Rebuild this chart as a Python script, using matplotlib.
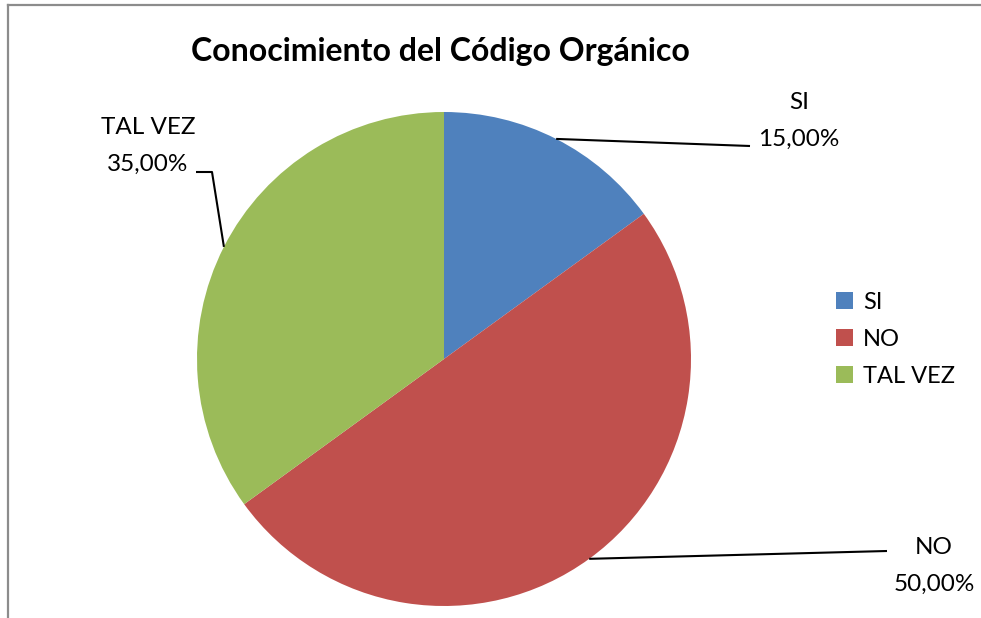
import numpy as np
import matplotlib
matplotlib.use('Agg')
import matplotlib.pyplot as plt
from matplotlib.lines import Line2D
from matplotlib.patches import Patch

categories = ['SI', 'NO', 'TAL VEZ']
values = [15.0, 50.0, 35.0]
colors = ['#4F81BD', '#C0504D', '#9BBB59']
title = 'Conocimiento del Código Orgánico'

W, H = 981, 618
plt.rcParams['font.family'] = ['Lato', 'DejaVu Sans']


def px(x, y):
    # pixel position (top-left origin) -> figure fraction
    return x / W, 1 - y / H


fig = plt.figure(figsize=(W / 100, H / 100), dpi=100)
fig.patch.set_facecolor('white')

# chart area border (top and left only visible)
fig.add_artist(Line2D([8 / W, 1], [1 - 5 / H, 1 - 5 / H], color='#8c8c8c', lw=1.6))
fig.add_artist(Line2D([8 / W, 8 / W], [0, 1 - 5 / H], color='#8c8c8c', lw=1.6))

cx, cy, r = 444, 359, 247
ax = fig.add_axes([(cx - r) / W, (H - cy - r) / H, 2 * r / W, 2 * r / H])
wedges, _ = ax.pie(values, colors=colors, startangle=90, counterclock=False,
                   radius=1, wedgeprops=dict(linewidth=0))
ax.set_xlim(-1, 1)
ax.set_ylim(-1, 1)
ax.set_aspect('equal')
ax.axis('off')


def to_data(x, y):
    return (x - cx) / r, (cy - y) / r


# leader line end points (pixel) and label positions
leader_pts = [
    [(750, 146)],
    [(887, 551)],
    [(212, 172), (196, 172)],
]
label_pos = [(799, 121), (934, 566), (148, 146)]

for w, pts, lp, cat, v in zip(wedges, leader_pts, label_pos, categories, values):
    mid = np.deg2rad((w.theta1 + w.theta2) / 2)
    xs = [np.cos(mid)] + [to_data(*p)[0] for p in pts]
    ys = [np.sin(mid)] + [to_data(*p)[1] for p in pts]
    ax.plot(xs, ys, color='black', lw=1.5, clip_on=False, solid_capstyle='butt')
    fx, fy = px(*lp)
    fig.text(fx, fy, '{}\n{:.2f}%'.format(cat, v).replace('.', ','),
             ha='center', va='center', fontsize=17.5, linespacing=1.9)

fig.text(*px(440, 52), title, ha='center', va='center', fontsize=23,
         fontweight='bold')

handles = [Patch(facecolor=c, edgecolor='none') for c in colors]
fig.legend(handles, categories, loc='upper left', bbox_to_anchor=px(836, 292),
           frameon=False, fontsize=17, handlelength=0.72, handleheight=0.72,
           handletextpad=0.42, labelspacing=0.68, borderaxespad=0, borderpad=0)

fig.savefig('out.png', dpi=100)
plt.close(fig)
